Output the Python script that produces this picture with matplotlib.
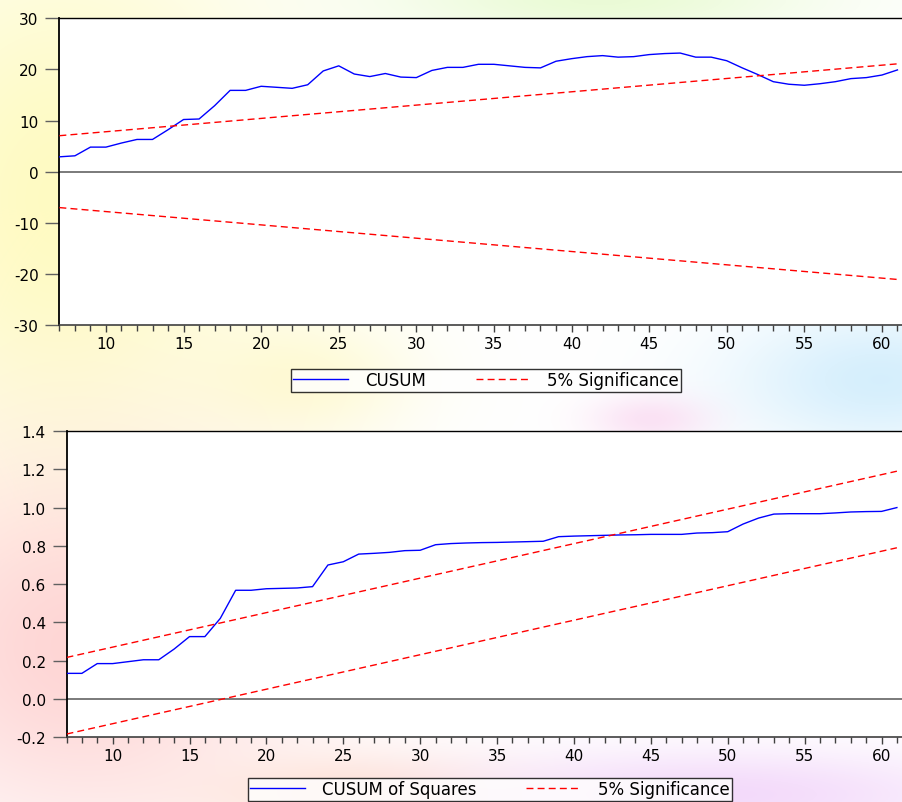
import numpy as np
import matplotlib
matplotlib.use('Agg')
import matplotlib.pyplot as plt
from matplotlib.ticker import MultipleLocator, FormatStrFormatter

plt.rcParams['font.family'] = ['DejaVu Sans']
plt.rcParams['axes.unicode_minus'] = False

# observations 7..61
obs = np.arange(7, 62)

cusum = [2.9, 3.1, 4.8, 4.8, 5.6, 6.3, 6.3, 8.2, 10.2, 10.3,
         12.9, 15.9, 15.9, 16.7, 16.5, 16.3, 17.0, 19.7, 20.7, 19.1,
         18.6, 19.2, 18.5, 18.4, 19.8, 20.4, 20.4, 21.0, 21.0, 20.7,
         20.4, 20.3, 21.6, 22.1, 22.5, 22.7, 22.4, 22.5, 22.9, 23.1,
         23.2, 22.4, 22.4, 21.7, 20.3, 19.0, 17.6, 17.1, 16.9, 17.2,
         17.6, 18.2, 18.4, 18.9, 19.9]

cusum_sq = [0.134, 0.134, 0.185, 0.185, 0.195, 0.205, 0.205, 0.261, 0.326, 0.326,
            0.421, 0.568, 0.568, 0.576, 0.578, 0.580, 0.587, 0.700, 0.717, 0.757,
            0.761, 0.766, 0.775, 0.777, 0.806, 0.812, 0.815, 0.817, 0.818, 0.820,
            0.822, 0.824, 0.848, 0.851, 0.853, 0.855, 0.857, 0.858, 0.860, 0.860,
            0.860, 0.867, 0.869, 0.874, 0.914, 0.945, 0.966, 0.968, 0.968, 0.968,
            0.972, 0.977, 0.979, 0.980, 1.000]

# 5% significance bands (straight lines, end points)
bound_x = [7, 61]
cusum_upper = [7.03, 21.09]
cusum_lower = [-7.03, -21.09]
sq_upper = [0.217, 1.19]
sq_lower = [-0.183, 0.79]

W, H = 902, 803
fig = plt.figure(figsize=(W / 100, H / 100), dpi=100)

# faint coloured watermark behind the charts
bg = fig.add_axes([0, 0, 1, 1], zorder=0)
yy, xx = np.mgrid[0:H, 0:W]
img = np.ones((H, W, 3))
blobs = [
    (60, 200, 210, 280, (1.0, 0.98, 0.72), 0.85),
    (300, 380, 110, 60, (1.0, 0.98, 0.78), 0.7),
    (600, 0, 220, 40, (0.90, 0.98, 0.80), 0.8),
    (880, 380, 150, 70, (0.82, 0.93, 0.99), 0.9),
    (80, 650, 210, 180, (1.0, 0.80, 0.80), 0.8),
    (360, 795, 150, 40, (1.0, 0.87, 0.80), 0.8),
    (720, 795, 260, 45, (0.95, 0.84, 0.98), 0.9),
    (650, 420, 60, 25, (0.98, 0.84, 0.94), 0.7),
]
for cx, cy, rx, ry, col, a in blobs:
    w = a * np.exp(-((xx - cx) / rx) ** 2 - ((yy - cy) / ry) ** 2)
    img = img * (1 - w[..., None]) + np.array(col) * w[..., None]
bg.imshow(img, extent=(0, W, H, 0), aspect='auto')
bg.axis('off')


def style_axes(ax, ymajor):
    ax.set_facecolor('white')
    ax.spines['right'].set_visible(False)
    ax.spines['left'].set_color('black')
    ax.spines['left'].set_linewidth(1.3)
    ax.spines['top'].set_color('black')
    ax.spines['top'].set_linewidth(1.0)
    ax.spines['bottom'].set_color('#404040')
    ax.spines['bottom'].set_linewidth(1.2)
    ax.xaxis.set_major_locator(MultipleLocator(5))
    ax.xaxis.set_minor_locator(MultipleLocator(1))
    ax.yaxis.set_major_locator(MultipleLocator(ymajor))
    ax.tick_params(axis='y', direction='out', length=10, width=1,
                   color='#606060', labelsize=11, pad=5)
    ax.tick_params(axis='x', which='major', direction='out', length=5, width=1,
                   color='#404040', labelsize=11, pad=3)
    ax.tick_params(axis='x', which='minor', direction='out', length=4, width=1,
                   color='#404040')
    ax.axhline(0, color='#707070', lw=1.3, zorder=1)


def add_legend(ax, cx, cy):
    leg = fig.legend(*ax.get_legend_handles_labels(), loc='center',
                     bbox_to_anchor=(cx / W, 1 - cy / H), ncol=2, fontsize=12,
                     frameon=True, fancybox=False, handlelength=3.3,
                     handletextpad=1.0, columnspacing=3.0, borderpad=0.15,
                     borderaxespad=0)
    leg.get_frame().set_edgecolor('black')
    leg.get_frame().set_linewidth(1.0)
    return leg


# top panel: CUSUM
ax1 = fig.add_axes([59.4 / W, 1 - 326 / H, 842.7 / W, (326 - 19.3) / H], zorder=2)
ax1.plot(obs, cusum, color='#0000ff', lw=1.0, label='CUSUM', zorder=3)
ax1.plot(bound_x, cusum_upper, color='#ff0000', lw=1.0, dashes=(5, 3),
         label='5% Significance', zorder=3)
ax1.plot(bound_x, cusum_lower, color='#ff0000', lw=1.0, dashes=(5, 3), zorder=3)
ax1.set_xlim(7, 61.3)
ax1.set_ylim(-30, 30)
style_axes(ax1, 10)
add_legend(ax1, 486, 381)

# bottom panel: CUSUM of Squares
ax2 = fig.add_axes([66.5 / W, 1 - 738.3 / H, 835 / W, (738.3 - 432) / H], zorder=2)
ax2.plot(obs, cusum_sq, color='#0000ff', lw=1.0, label='CUSUM of Squares', zorder=3)
ax2.plot(bound_x, sq_upper, color='#ff0000', lw=1.0, dashes=(5, 3),
         label='5% Significance', zorder=3)
ax2.plot(bound_x, sq_lower, color='#ff0000', lw=1.0, dashes=(5, 3), zorder=3)
ax2.set_xlim(7, 61.3)
ax2.set_ylim(-0.2, 1.4)
style_axes(ax2, 0.2)
ax2.yaxis.set_major_formatter(FormatStrFormatter('%.1f'))
add_legend(ax2, 490, 790)

fig.savefig('out.png', dpi=100)
